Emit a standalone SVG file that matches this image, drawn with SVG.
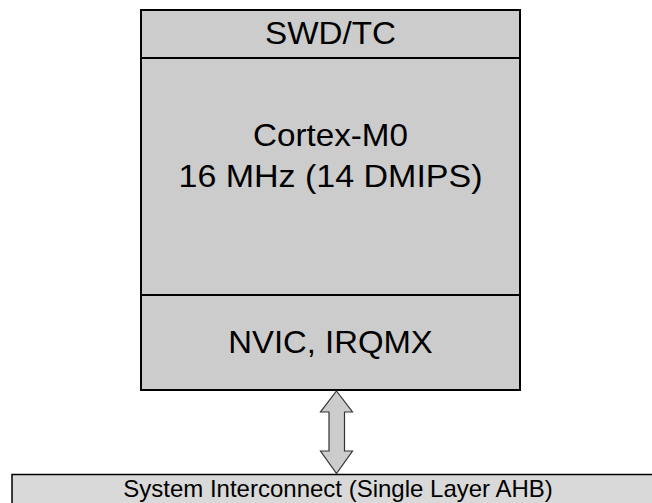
<svg xmlns="http://www.w3.org/2000/svg" width="652" height="503" viewBox="0 0 652 503">
<style>
.box{fill:#cccccc;stroke:#000;stroke-width:2}
.bar{fill:#d9d9d9;stroke:#000;stroke-width:1.5}
.t{font-family:"Liberation Sans",Arial,sans-serif;font-size:31.5px;fill:#000;text-anchor:middle}
.ts{font-family:"Liberation Sans",Arial,sans-serif;font-size:24px;fill:#000;text-anchor:middle}
.arr{fill:#cccccc;stroke:#333;stroke-width:1.2;stroke-linejoin:miter}
</style>
<rect width="652" height="503" fill="#fff"/>
<g id="swd">
<rect class="box" x="141" y="10" width="379" height="48"/>
<text class="t" x="330.5" y="44" textLength="131" lengthAdjust="spacingAndGlyphs">SWD/TC</text>
</g>
<g id="cortex">
<rect class="box" x="141" y="58" width="379" height="237"/>
<text class="t" x="330.5" y="146" textLength="155" lengthAdjust="spacingAndGlyphs">Cortex-M0</text>
<text class="t" x="330.5" y="186.5" textLength="304" lengthAdjust="spacingAndGlyphs">16 MHz (14 DMIPS)</text>
</g>
<g id="nvic">
<rect class="box" x="141" y="295" width="379" height="95"/>
<text class="t" x="330.5" y="353.3" textLength="204.5" lengthAdjust="spacingAndGlyphs">NVIC, IRQMX</text>
</g>
<g id="interconnect">
<rect class="bar" x="12" y="474.5" width="660" height="40"/>
<text class="ts" x="338" y="497">System Interconnect (Single Layer AHB)</text>
</g>
<g id="connectors">
<polygon class="arr" points="336.5,391 352.5,412 344.5,412 344.5,451 352.5,451 336.5,473.5 320.5,451 329,451 329,412 320.5,412"/>
</g>
</svg>
